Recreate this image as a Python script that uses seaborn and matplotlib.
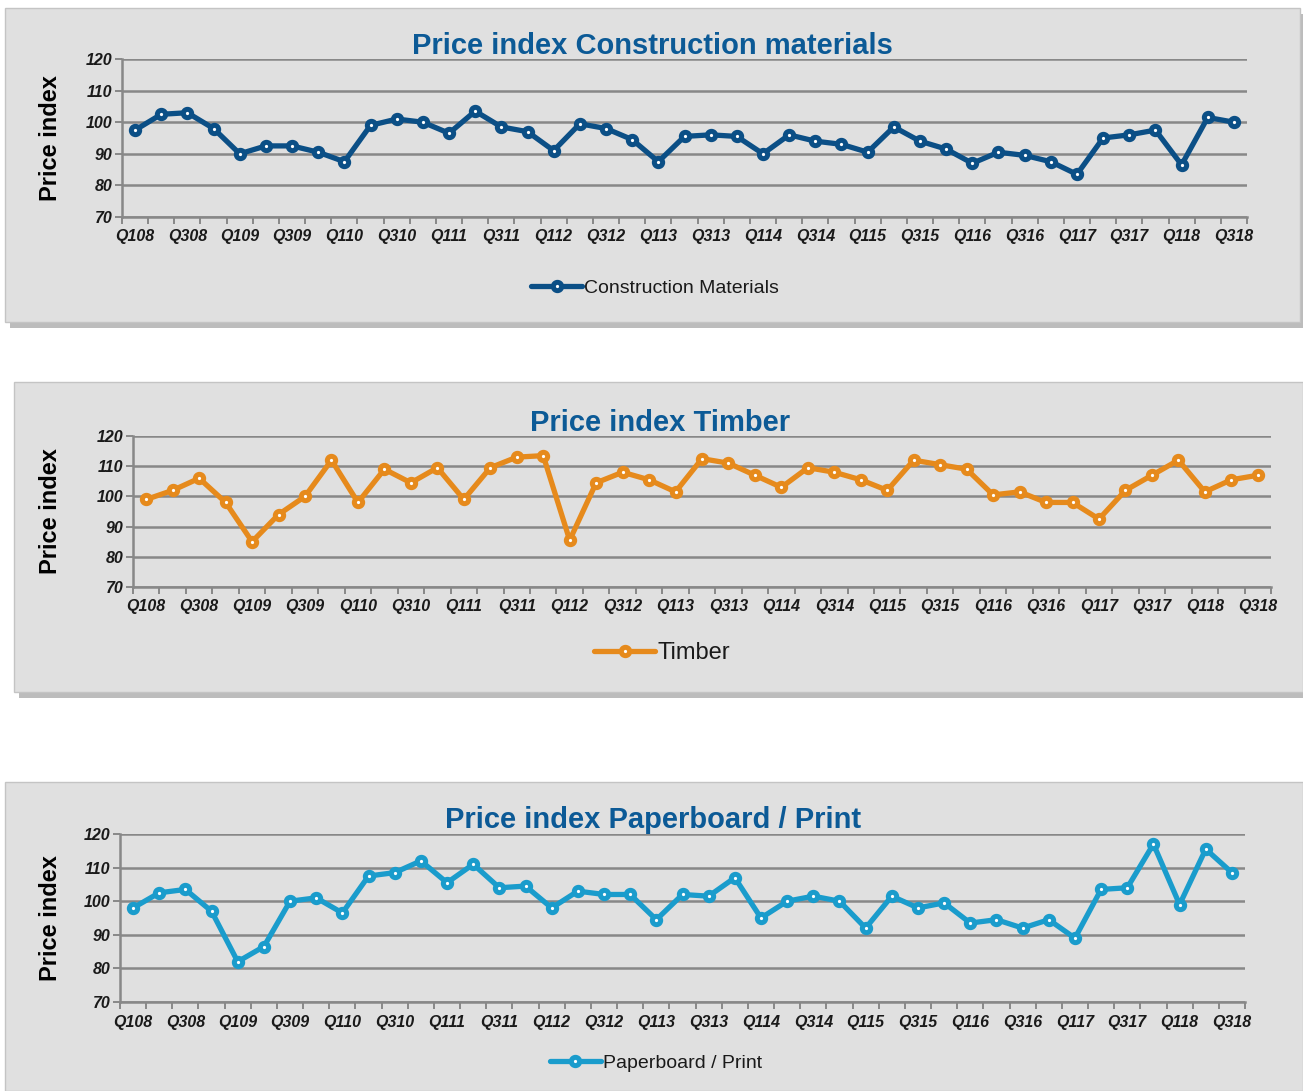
import numpy as np
import pandas as pd
import matplotlib
matplotlib.use("Agg")
import matplotlib.pyplot as plt
import seaborn as sns
from matplotlib.patches import Rectangle
from matplotlib import font_manager

quarters = [f"Q{q}{y:02d}" for y in range(8, 19) for q in range(1, 5)][:43]

construction = [97.5, 102.5, 103, 98, 90, 92.5, 92.5, 90.5, 87.5, 99, 101, 100,
                96.5, 103.5, 98.5, 97, 91, 99.5, 98, 94.5, 87.5, 95.5, 96, 95.5,
                90, 96, 94, 93, 90.5, 98.5, 94, 91.5, 87, 90.5, 89.5, 87.5,
                83.5, 95, 96, 97.5, 86.5, 101.5, 100]
timber = [99, 102, 106, 98, 85, 94, 100, 112, 98, 109, 104.5, 109.5,
          99, 109.5, 113, 113.5, 85.5, 104.5, 108, 105.5, 101.5, 112.5, 111, 107,
          103, 109.5, 108, 105.5, 102, 112, 110.5, 109, 100.5, 101.5, 98, 98,
          92.5, 102, 107, 112, 101.5, 105.5, 107]
paper = [98, 102.5, 103.5, 97, 82, 86.5, 100, 101, 96.5, 107.5, 108.5, 112,
         105.5, 111, 104, 104.5, 98, 103, 102, 102, 94.5, 102, 101.5, 107,
         95, 100, 101.5, 100, 92, 101.5, 98, 99.5, 93.5, 94.5, 92, 94.5,
         89, 103.5, 104, 117, 99, 115.5, 108.5]

yticks = [70, 80, 90, 100, 110, 120]

sns.set_theme(style="white")
names = {f.name for f in font_manager.fontManager.ttflist}
narrow = "Liberation Sans Narrow" if "Liberation Sans Narrow" in names else "Liberation Sans"
plt.rcParams["font.family"] = [narrow, "Liberation Sans", "DejaVu Sans"]

W, H = 1303, 1091
fig = plt.figure(figsize=(W / 100, H / 100), dpi=100)
fig.patch.set_facecolor("white")


def rect(x0, y0, x1, y1):
    return [x0 / W, 1 - y1 / H, (x1 - x0) / W, (y1 - y0) / H]


panels = [
    dict(name="Price index Construction materials", label="Construction Materials",
         values=construction, color="#0b4f86", box=(5, 8, 1300, 322),
         ax=(122, 59, 1247, 217), title_xy=(652, 46), leg=(655, 288), leg_size=14),
    dict(name="Price index Timber", label="Timber",
         values=timber, color="#e68a1c", box=(14, 382, 1303, 692),
         ax=(133, 436, 1271, 587), title_xy=(660, 423), leg=(662, 653), leg_size=17),
    dict(name="Price index Paperboard / Print", label="Paperboard / Print",
         values=paper, color="#1a9ccc", box=(5, 782, 1303, 1091),
         ax=(120, 834, 1245, 1002), title_xy=(653, 820), leg=(656, 1063), leg_size=14),
]

for p in panels:
    bx0, by0, bx1, by1 = p["box"]
    # shadow + panel background
    s = rect(bx0 + 5, by0 + 6, bx1 + 5, by1 + 6)
    fig.patches.append(Rectangle((s[0], s[1]), s[2], s[3], transform=fig.transFigure,
                                 facecolor="#a0a0a0", edgecolor="none", alpha=0.7,
                                 zorder=-20))
    r = rect(bx0, by0, bx1, by1)
    fig.patches.append(Rectangle((r[0], r[1]), r[2], r[3], transform=fig.transFigure,
                                 facecolor="#e0e0e0", edgecolor="#c4c4c4",
                                 linewidth=1, zorder=-10))

    ax = fig.add_axes(rect(*p["ax"]))
    ax.set_facecolor("none")
    df = pd.DataFrame({"idx": np.arange(len(quarters)), "value": p["values"]})
    sns.lineplot(data=df, x="idx", y="value", ax=ax, color=p["color"], linewidth=3.8,
                 marker="o", markersize=6, markerfacecolor="white",
                 markeredgecolor=p["color"], markeredgewidth=3.6, label=p["label"],
                 zorder=3)

    ax.set_xlim(-0.5, len(quarters) - 0.5)
    ax.set_ylim(70, 120)
    ax.set_yticks(yticks)
    ax.set_yticklabels([str(t) for t in yticks], fontsize=11.5, fontweight="bold",
                       fontstyle="italic", color="#1a1a1a")
    ax.yaxis.grid(True, color="#888888", linewidth=1.8)
    ax.set_axisbelow(True)

    ax.set_xticks(np.arange(len(quarters) + 1) - 0.5)
    ax.set_xticklabels([])
    ax.set_xticks(np.arange(0, len(quarters), 2), minor=True)
    ax.set_xticklabels(quarters[::2], minor=True, fontsize=11.5, fontweight="bold",
                       fontstyle="italic", color="#1a1a1a")
    ax.tick_params(axis="x", which="major", direction="out", length=5, width=1.4,
                   color="#888888", bottom=True)
    ax.tick_params(axis="x", which="minor", length=0, pad=9, bottom=True)
    ax.tick_params(axis="y", direction="out", length=5, width=1.4, color="#888888",
                   left=True, pad=2)

    for sp in ["top", "right"]:
        ax.spines[sp].set_visible(False)
    for sp in ["left", "bottom"]:
        ax.spines[sp].set_color("#888888")
        ax.spines[sp].set_linewidth(1.8)

    ax.set_xlabel("")
    ax.set_ylabel("Price index", fontsize=17, fontweight="bold", color="black",
                  family=["Liberation Sans", "DejaVu Sans"])
    ax.yaxis.set_label_coords((62 - p["ax"][0]) / (p["ax"][2] - p["ax"][0]), 0.5)

    tx, ty = p["title_xy"]
    fig.text(tx / W, 1 - ty / H, p["name"], ha="center", va="center",
             fontsize=21, fontweight="bold", color="#0c5a96")

    lx, ly = p["leg"]
    leg = ax.legend(loc="center", bbox_to_anchor=(lx / W, 1 - ly / H),
                    bbox_transform=fig.transFigure, frameon=False,
                    fontsize=p["leg_size"], handlelength=2.6, handletextpad=0.1,
                    borderaxespad=0)
    for t in leg.get_texts():
        t.set_color("#1a1a1a")

fig.savefig("out.png", dpi=100)
